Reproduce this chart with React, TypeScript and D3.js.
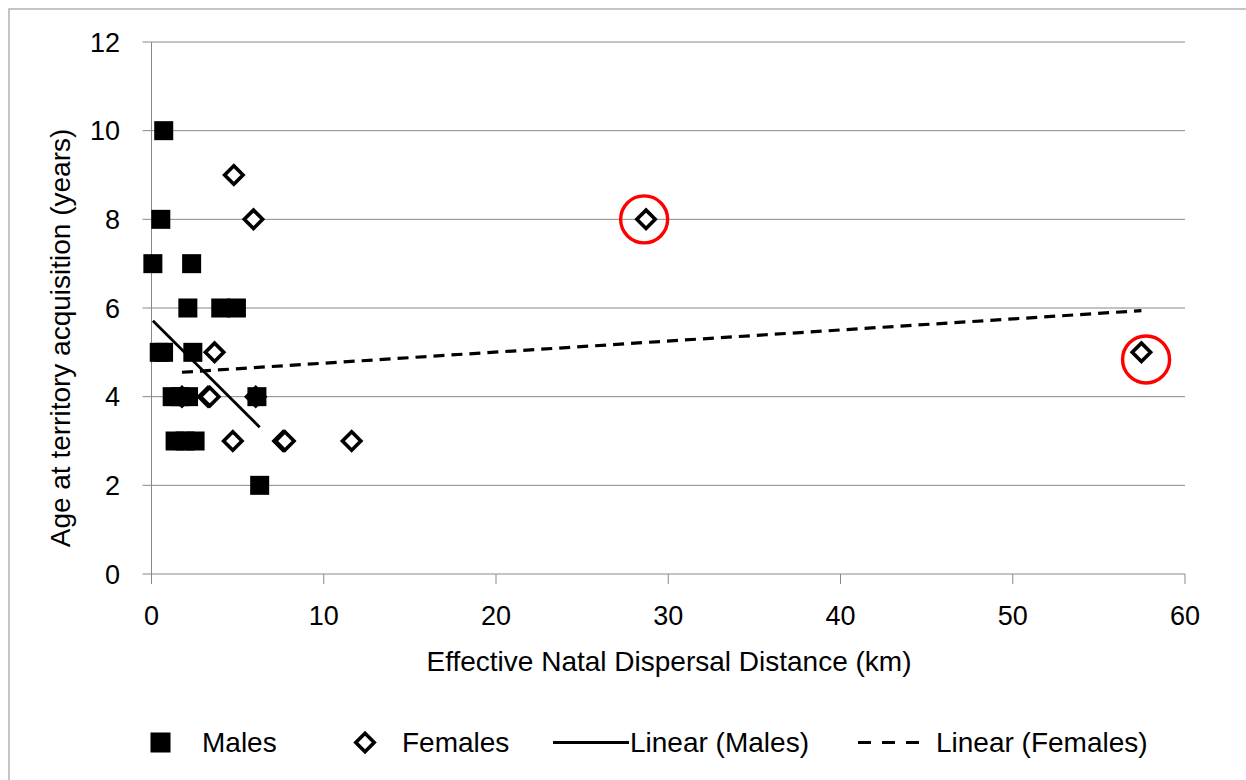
import React from "react";
import * as d3 from "d3";

// Age at territory acquisition vs. effective natal dispersal distance
const maleDistance = [0.71, 0.54, 0.08, 2.33, 2.11, 4.02, 4.93, 0.45, 0.7, 2.4, 1.2, 1.65, 2.15, 6.12, 1.37, 1.95, 2.53, 6.28];
const maleAge = [10, 8, 7, 7, 6, 6, 6, 5, 5, 5, 4, 4, 4, 4, 3, 3, 3, 2];

const femaleDistance = [4.78, 5.92, 3.66, 1.77, 3.28, 3.38, 6.05, 4.72, 7.64, 7.74, 11.62, 28.71, 57.47];
const femaleAge = [9, 8, 5, 4, 4, 4, 4, 3, 3, 3, 3, 8, 5];

// Linear trendlines (slope, intercept), spanning each series' distance range
const maleTrend = { slope: -0.387, intercept: 5.741 };
const femaleTrend = { slope: 0.02496, intercept: 4.506 };

// Outlying females ringed in red
const highlightDistance = [28.6, 57.74];
const highlightAge = [8.0, 4.84];

const xTicks = [0, 10, 20, 30, 40, 50, 60];
const yTicks = [0, 2, 4, 6, 8, 10, 12];

const legendLabels = ["Males", "Females", "Linear (Males)", "Linear (Females)"];

const W = 1246;
const H = 780;
const FONT = "'Liberation Sans', Arial, sans-serif";
const GRID = "#888888";

export default function App() {
  const x = d3.scaleLinear().domain([0, 60]).range([151.5, 1185]);
  const y = d3.scaleLinear().domain([0, 12]).range([574, 42]);

  const males = maleDistance.map((d, i) => ({ d, a: maleAge[i] }));
  const females = femaleDistance.map((d, i) => ({ d, a: femaleAge[i] }));

  const trendPath = (xs: number[], t: { slope: number; intercept: number }) => {
    const lo = d3.min(xs) as number;
    const hi = d3.max(xs) as number;
    const line = d3
      .line<number>()
      .x((v) => x(v))
      .y((v) => y(t.slope * v + t.intercept));
    return line([lo, hi]) as string;
  };

  const sq = 19;
  const dia = 9.2;
  const diamond = (cx: number, cy: number, r: number) =>
    `M${cx},${cy - r}L${cx + r},${cy}L${cx},${cy + r}L${cx - r},${cy}Z`;

  const [x0, x1] = x.range();

  return (
    <svg
      width={W}
      height={H}
      style={{ position: "absolute", left: 0, top: 0, display: "block", background: "#fff" }}
      fontFamily={FONT}
    >
      {/* chart frame */}
      <rect x={9} y={9} width={W + 20} height={H + 20} fill="none" stroke="#b3b3b3" strokeWidth={1.5} />

      {/* horizontal gridlines and y ticks */}
      {yTicks.map((t) => (
        <g key={"y" + t}>
          <line x1={x0} x2={x1} y1={y(t)} y2={y(t)} stroke={GRID} strokeWidth={1} />
          <line x1={x0 - 9} x2={x0} y1={y(t)} y2={y(t)} stroke={GRID} strokeWidth={1} />
          <text x={120} y={y(t)} dy="0.36em" textAnchor="end" fontSize={27} fill="#000">
            {t}
          </text>
        </g>
      ))}

      {/* y axis line */}
      <line x1={x0} x2={x0} y1={y(12)} y2={y(0)} stroke={GRID} strokeWidth={1} />

      {/* x ticks */}
      {xTicks.map((t) => (
        <g key={"x" + t}>
          <line x1={x(t)} x2={x(t)} y1={y(0)} y2={y(0) + 10} stroke={GRID} strokeWidth={1} />
          <text x={x(t)} y={625} textAnchor="middle" fontSize={27} fill="#000">
            {t}
          </text>
        </g>
      ))}

      {/* axis titles */}
      <text x={669} y={671} textAnchor="middle" fontSize={28} fill="#000">
        Effective Natal Dispersal Distance (km)
      </text>
      <text
        transform={`translate(70,338) rotate(-90)`}
        textAnchor="middle"
        fontSize={28}
        fill="#000"
      >
        Age at territory acquisition (years)
      </text>

      {/* females */}
      {females.map((p, i) => (
        <path
          key={"f" + i}
          d={diamond(x(p.d), y(p.a), dia)}
          fill="#fff"
          stroke="#000"
          strokeWidth={3.6}
          strokeLinejoin="miter"
        />
      ))}

      {/* males */}
      {males.map((p, i) => (
        <rect key={"m" + i} x={x(p.d) - sq / 2} y={y(p.a) - sq / 2} width={sq} height={sq} fill="#000" />
      ))}

      {/* trendlines */}
      <path d={trendPath(maleDistance, maleTrend)} fill="none" stroke="#000" strokeWidth={2.8} />
      <path
        d={trendPath(femaleDistance, femaleTrend)}
        fill="none"
        stroke="#000"
        strokeWidth={3.2}
        strokeDasharray="11,7"
      />

      {/* highlighted outliers */}
      {highlightDistance.map((d, i) => (
        <circle key={"h" + i} cx={x(d)} cy={y(highlightAge[i])} r={23.5} fill="none" stroke="#ff0000" strokeWidth={3.4} />
      ))}

      {/* legend */}
      <g fontSize={28} fill="#000">
        <rect x={150.5} y={732.5} width={20} height={20} fill="#000" />
        <text x={202} y={752}>{legendLabels[0]}</text>

        <path d={diamond(365, 742.5, dia)} fill="#fff" stroke="#000" strokeWidth={3.6} />
        <text x={402} y={752}>{legendLabels[1]}</text>

        <line x1={553} x2={629} y1={742.5} y2={742.5} stroke="#000" strokeWidth={2.8} />
        <text x={630} y={752}>{legendLabels[2]}</text>

        <line x1={858} x2={921} y1={742.5} y2={742.5} stroke="#000" strokeWidth={3.2} strokeDasharray="13,11" />
        <text x={936} y={752}>{legendLabels[3]}</text>
      </g>
    </svg>
  );
}
